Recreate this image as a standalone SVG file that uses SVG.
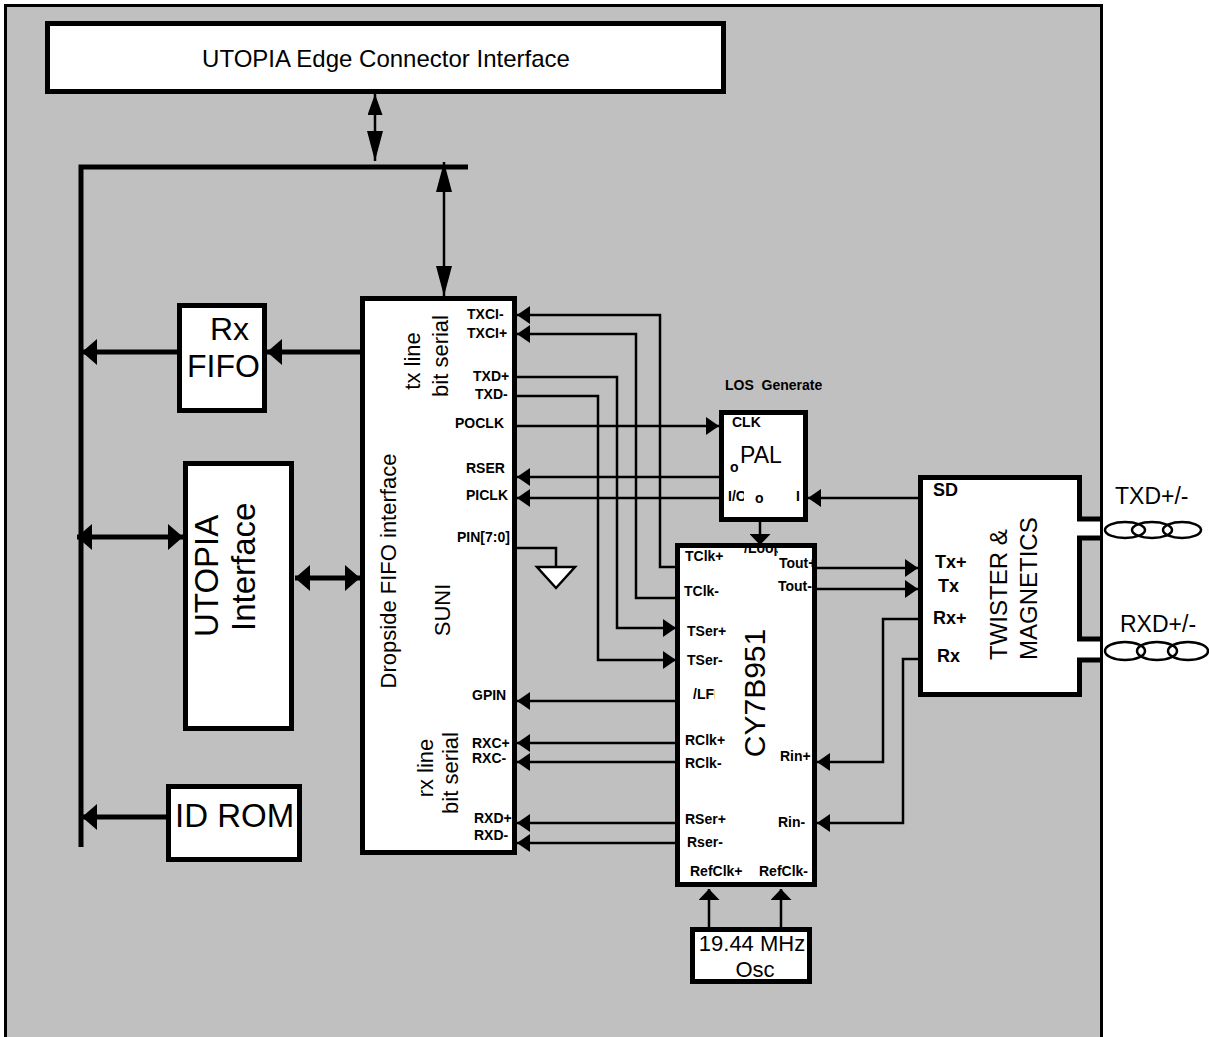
<svg xmlns="http://www.w3.org/2000/svg" width="1209" height="1037" viewBox="0 0 1209 1037">
<style>
.box{fill:#fff;stroke:#000;stroke-width:5}
.ln{fill:none;stroke:#000;stroke-width:2.5}
.lnb{fill:none;stroke:#000;stroke-width:5}
.pin{font-family:"Liberation Sans",Arial,sans-serif;font-weight:bold;font-size:14px;fill:#000}
.pinb{font-family:"Liberation Sans",Arial,sans-serif;font-weight:bold;font-size:18px;fill:#000}
.t{font-family:"Liberation Sans",Arial,sans-serif;fill:#000}
</style>
<defs>
<marker id="a" viewBox="0 0 13 18" refX="13" refY="9" markerWidth="13" markerHeight="18" markerUnits="userSpaceOnUse" orient="auto-start-reverse"><path d="M0,0 L13,9 L0,18 z"/></marker>
<marker id="ab" viewBox="0 0 15 26" refX="15" refY="13" markerWidth="15" markerHeight="26" markerUnits="userSpaceOnUse" orient="auto-start-reverse"><path d="M0,0 L15,13 L0,26 z"/></marker>
<marker id="av" viewBox="0 0 21 15" refX="21" refY="7.5" markerWidth="21" markerHeight="15" markerUnits="userSpaceOnUse" orient="auto-start-reverse"><path d="M0,0 L21,7.5 L0,15 z"/></marker>
<marker id="as" viewBox="0 0 30 16" refX="30" refY="8" markerWidth="30" markerHeight="16" markerUnits="userSpaceOnUse" orient="auto-start-reverse"><path d="M0,0 L30,8 L0,16 z"/></marker>
<marker id="aw" viewBox="0 0 11 21" refX="11" refY="10.5" markerWidth="11" markerHeight="21" markerUnits="userSpaceOnUse" orient="auto-start-reverse"><path d="M0,0 L11,10.5 L0,21 z"/></marker>
<clipPath id="cyclip"><rect x="677.5" y="545.5" width="135" height="339"/></clipPath>
<clipPath id="loopclip"><rect x="740" y="540" width="38" height="20"/></clipPath>
<clipPath id="lfclip"><rect x="690" y="680" width="25" height="25"/></clipPath>
<clipPath id="ioclip"><rect x="725" y="480" width="19" height="25"/></clipPath>
</defs>

<rect id="background" x="5.5" y="5.5" width="1096" height="1040" fill="#c0c0c0" stroke="#000" stroke-width="3"/>

<g id="connectors">
<path class="ln" d="M375,94 V161" marker-start="url(#av)" marker-end="url(#as)"/>
<path class="lnb" d="M468,167 H81 V847"/>
<path class="ln" d="M444,162 V296" marker-start="url(#as)" marker-end="url(#as)"/>
<path class="lnb" d="M367,352 H267" marker-end="url(#ab)"/>
<path class="lnb" d="M177,352 H82" marker-end="url(#ab)"/>
<path class="lnb" d="M77,537 H183" marker-start="url(#ab)" marker-end="url(#ab)"/>
<path class="lnb" d="M295,578 H360" marker-start="url(#ab)" marker-end="url(#ab)"/>
<path class="lnb" d="M166,817 H82" marker-end="url(#ab)"/>
<path class="ln" d="M677,567 H660 V315 H517" marker-end="url(#a)"/>
<path class="ln" d="M677,598 H636 V334 H517" marker-end="url(#a)"/>
<path class="ln" d="M517,377 H617 V628 H676" marker-end="url(#a)"/>
<path class="ln" d="M517,396 H598 V660 H676" marker-end="url(#a)"/>
<path class="ln" d="M517,426 H719" marker-end="url(#a)"/>
<path class="ln" d="M721,477 H517" marker-end="url(#a)"/>
<path class="ln" d="M721,498 H517" marker-end="url(#a)"/>
<path class="ln" d="M517,548 H556 V567"/>
<polygon points="537,567 575,567 556,588" fill="#fff" stroke="#000" stroke-width="2.5" stroke-linejoin="miter"/>
<path class="ln" d="M681,701 H517" marker-end="url(#a)"/>
<path class="ln" d="M681,743 H517" marker-end="url(#a)"/>
<path class="ln" d="M681,762 H517" marker-end="url(#a)"/>
<path class="ln" d="M681,823 H517" marker-end="url(#a)"/>
<path class="ln" d="M681,843 H517" marker-end="url(#a)"/>
<path class="ln" d="M760,522 V545" marker-end="url(#aw)"/>
<path class="ln" d="M920,498 H808" marker-end="url(#a)"/>
<path class="ln" d="M815,568 H918" marker-end="url(#a)"/>
<path class="ln" d="M815,589 H918" marker-end="url(#a)"/>
<path class="ln" d="M920,619 H883 V762 H817" marker-end="url(#a)"/>
<path class="ln" d="M920,659 H903 V823 H817" marker-end="url(#a)"/>
<path class="ln" d="M709,927 V889" marker-end="url(#aw)"/>
<path class="ln" d="M781,927 V889" marker-end="url(#aw)"/>
</g>

<g id="edge-connector">
<rect class="box" x="47.5" y="23.5" width="676" height="68"/>
<text class="t" x="386" y="67" font-size="24" text-anchor="middle">UTOPIA Edge Connector Interface</text>
</g>

<g id="rx-fifo">
<rect class="box" x="179.5" y="305.5" width="85" height="105"/>
<text class="t" x="210" y="340" font-size="32">Rx</text>
<text class="t" x="187" y="377" font-size="32">FIFO</text>
</g>

<g id="utopia-interface">
<rect class="box" x="185.5" y="463.5" width="106" height="265"/>
<text class="t" font-size="33" transform="translate(218,637) rotate(-90)">UTOPIA</text>
<text class="t" font-size="33" transform="translate(255,631) rotate(-90)">Interface</text>
</g>

<g id="id-rom">
<rect class="box" x="168.5" y="786.5" width="131" height="73"/>
<text class="t" x="175" y="827" font-size="33">ID ROM</text>
</g>

<g id="suni">
<rect class="box" x="362.5" y="298.5" width="152" height="554"/>
<text class="t" font-size="22" text-anchor="middle" transform="translate(396,571) rotate(-90)">Dropside FIFO interface</text>
<text class="t" font-size="22" text-anchor="middle" transform="translate(450,610) rotate(-90)">SUNI</text>
<text class="t" font-size="22" text-anchor="middle" transform="translate(420,361) rotate(-90)">tx line</text>
<text class="t" font-size="22" text-anchor="middle" transform="translate(448,356) rotate(-90)">bit serial</text>
<text class="t" font-size="22" text-anchor="middle" transform="translate(433,768) rotate(-90)">rx line</text>
<text class="t" font-size="22" text-anchor="middle" transform="translate(458,773) rotate(-90)">bit serial</text>
<text class="pin" x="467" y="319">TXCI-</text>
<text class="pin" x="467" y="338">TXCI+</text>
<text class="pin" x="473" y="381">TXD+</text>
<text class="pin" x="475" y="399">TXD-</text>
<text class="pin" x="455" y="428">POCLK</text>
<text class="pin" x="466" y="473">RSER</text>
<text class="pin" x="466" y="500">PICLK</text>
<text class="pin" x="457" y="542">PIN[7:0]</text>
<text class="pin" x="472" y="700">GPIN</text>
<text class="pin" x="472" y="748">RXC+</text>
<text class="pin" x="472" y="763">RXC-</text>
<text class="pin" x="474" y="823">RXD+</text>
<text class="pin" x="474" y="840">RXD-</text>
</g>

<g id="pal">
<text class="pin" x="725" y="390" xml:space="preserve">LOS  Generate</text>
<rect class="box" x="721.5" y="412.5" width="84" height="107"/>
<text class="pin" x="732" y="427">CLK</text>
<text class="t" x="740" y="463" font-size="23">PAL</text>
<text class="pin" x="730" y="472">o</text>
<text class="pin" x="728" y="501" clip-path="url(#ioclip)">I/O</text>
<text class="pin" x="755" y="503">o</text>
<text class="pin" x="796" y="501">I</text>
</g>

<g id="cy7b951">
<rect class="box" x="677.5" y="545.5" width="137" height="339"/>
<g clip-path="url(#cyclip)">
<text class="pin" x="685" y="561">TClk+</text>
<text class="pin" x="744" y="553" clip-path="url(#loopclip)">/Loop</text>
<text class="pin" x="779" y="568">Tout+</text>
<text class="pin" x="778" y="591">Tout-</text>
<text class="pin" x="684" y="596">TClk-</text>
<text class="pin" x="687" y="636">TSer+</text>
<text class="pin" x="687" y="665">TSer-</text>
<text class="pin" x="693" y="699" clip-path="url(#lfclip)">/LFI</text>
<text class="pin" x="685" y="745">RClk+</text>
<text class="pin" x="685" y="768">RClk-</text>
<text class="pin" x="780" y="761">Rin+</text>
<text class="pin" x="685" y="824">RSer+</text>
<text class="pin" x="687" y="847">Rser-</text>
<text class="pin" x="778" y="827">Rin-</text>
<text class="pin" x="690" y="876">RefClk+</text>
<text class="pin" x="759" y="876">RefClk-</text>
</g>
<text class="t" font-size="30" text-anchor="middle" transform="translate(765,693) rotate(-90)">CY7B951</text>
</g>

<g id="twister">
<polygon points="920.5,477.5 1079.5,477.5 1079.5,519 1100,519 1100,538 1079.5,538 1079.5,639 1100,639 1100,660 1079.5,660 1079.5,694.5 920.5,694.5" fill="#fff"/>
<path d="M1100,519 H1079.5 V477.5 H920.5 V694.5 H1079.5 V660 H1100 M1100,538 H1079.5 V639 H1100" fill="none" stroke="#000" stroke-width="5"/>
<text class="pinb" x="933" y="496">SD</text>
<text class="pinb" x="935" y="568">Tx+</text>
<text class="pinb" x="938" y="592">Tx</text>
<text class="pinb" x="933" y="624">Rx+</text>
<text class="pinb" x="937" y="662">Rx</text>
<text class="t" font-size="24" transform="translate(1007,660) rotate(-90)">TWISTER &amp;</text>
<text class="t" font-size="24" transform="translate(1037,660) rotate(-90)">MAGNETICS</text>
</g>

<g id="txd-pair">
<text class="t" x="1115" y="504" font-size="23">TXD+/-</text>
<ellipse cx="1125" cy="530" rx="20" ry="8" fill="none" stroke="#000" stroke-width="2.5"/>
<ellipse cx="1152" cy="530" rx="20" ry="8" fill="none" stroke="#000" stroke-width="2.5"/>
<ellipse cx="1182" cy="530" rx="19" ry="8" fill="none" stroke="#000" stroke-width="2.5"/>
</g>

<g id="rxd-pair">
<text class="t" x="1120" y="632" font-size="23">RXD+/-</text>
<ellipse cx="1125" cy="651" rx="20" ry="9" fill="none" stroke="#000" stroke-width="2.5"/>
<ellipse cx="1157" cy="651" rx="20" ry="9" fill="none" stroke="#000" stroke-width="2.5"/>
<ellipse cx="1188" cy="651" rx="20" ry="9" fill="none" stroke="#000" stroke-width="2.5"/>
</g>

<g id="osc">
<rect class="box" x="692.5" y="929.5" width="117" height="52"/>
<text class="t" x="752" y="951" font-size="22" text-anchor="middle">19.44 MHz</text>
<text class="t" x="755" y="977" font-size="22" text-anchor="middle">Osc</text>
</g>
</svg>
